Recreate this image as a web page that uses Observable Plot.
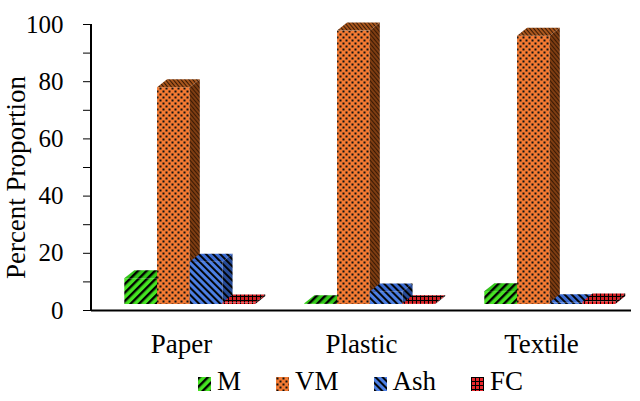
<!DOCTYPE html>
<html><head><meta charset="utf-8">
<script src="https://cdn.jsdelivr.net/npm/d3@7"></script>
<script src="https://cdn.jsdelivr.net/npm/@observablehq/plot@0.6"></script>
<style>
body{margin:0;background:#fff;font-family:"Liberation Serif","Times New Roman",serif;}
#legend{height:39px;display:flex;align-items:center;justify-content:flex-start;gap:35px;font-size:27px;color:#000;padding-left:198px;}
#legend .item{display:flex;align-items:center;gap:6px;}
#legend svg{display:block;}
</style>
</head><body>
<div id="chart"></div>
<div id="legend"></div>
<script>
const categories = ["Paper", "Plastic", "Textile"];
const series = ["M", "VM", "Ash", "FC"];
const M   = [9.0, 0.3, 4.5];
const VM  = [75.8, 95.6, 93.8];
const Ash = [14.8, 4.4, 0.6];
const FC  = [0.5, 0.3, 0.9];
const yTicks = [0, 10, 20, 30, 40, 50, 60, 70, 80, 90, 100];
const yLabels = [0, 20, 40, 60, 80, 100];
const yTitle = "Percent Proportion";

const valuesBySeries = {M, VM, Ash, FC};
const rows = [];
categories.forEach((c, ci) => series.forEach(s => rows.push({category: c, series: s, value: valuesBySeries[s][ci]})));

// pattern styles per series: [front, top, side]
const styles = {
  M:   {kind: "stripe", rot: 45,  period: 6, sw: 2.4, fills: ["#45e322", "#33c81a", "#1e8210"]},
  VM:  {kind: "dots",                         fills: ["#f47a32", "#a8561d", "#7e3d12"]},
  Ash: {kind: "stripe", rot: -45, period: 5, sw: 1.9, fills: ["#4c7fe4", "#3c6cd2", "#284c98"]},
  FC:  {kind: "grid",                         fills: ["#e8282c", "#cf1f24", "#8a1014"]}
};

function addPatterns(defs, prefix) {
  for (const s of series) {
    const st = styles[s];
    st.fills.forEach((bg, k) => {
      const id = `${prefix}-${s}-${k}`;
      if (st.kind === "stripe") {
        const p = defs.append("pattern").attr("id", id).attr("patternUnits", "userSpaceOnUse")
          .attr("width", st.period).attr("height", st.period).attr("patternTransform", `rotate(${st.rot})`);
        p.append("rect").attr("width", st.period).attr("height", st.period).attr("fill", bg);
        p.append("rect").attr("x", 0).attr("y", 0).attr("width", st.sw).attr("height", st.period).attr("fill", "#000");
      } else if (st.kind === "dots") {
        if (k === 0) {
          const p = defs.append("pattern").attr("id", id).attr("patternUnits", "userSpaceOnUse").attr("width", 6).attr("height", 6);
          p.append("rect").attr("width", 6).attr("height", 6).attr("fill", bg);
          p.append("rect").attr("x", 0.5).attr("y", 0.5).attr("width", 2).attr("height", 2).attr("fill", "#111");
          p.append("rect").attr("x", 3.5).attr("y", 3.5).attr("width", 2).attr("height", 2).attr("fill", "#111");
        } else {
          const p = defs.append("pattern").attr("id", id).attr("patternUnits", "userSpaceOnUse")
            .attr("width", 3).attr("height", 3).attr("patternTransform", "rotate(-40)");
          p.append("rect").attr("width", 3).attr("height", 3).attr("fill", bg);
          p.append("rect").attr("width", 1).attr("height", 3).attr("fill", "#3a1a05");
        }
      } else {
        const p = defs.append("pattern").attr("id", id).attr("patternUnits", "userSpaceOnUse").attr("width", 4).attr("height", 4);
        p.append("rect").attr("width", 4).attr("height", 4).attr("fill", bg);
        p.append("rect").attr("width", 1).attr("height", 4).attr("fill", "#000");
        p.append("rect").attr("width", 4).attr("height", 1).attr("fill", "#000");
      }
    });
  }
}

function bars3d(index, scales, values, dimensions) {
  const {x, y} = scales;
  const bw = x.bandwidth();
  const g = d3.create("svg:g");
  const defs = g.append("defs");
  addPatterns(defs, "pat");
  const barW = bw * 0.182, start = bw * 0.185;
  const depthX = 10, depthY = -8, lift = -6;
  for (const c of categories) {
    series.forEach((s, i) => {
      const d = rows.find(r => r.category === c && r.series === s);
      const xl = x(c) + start + i * barW, xr = xl + barW;
      const yt = y(d.value) + lift, yb = y(0) + lift;
      g.append("rect").attr("x", xl).attr("y", yt).attr("width", barW).attr("height", Math.max(0, yb - yt))
        .attr("fill", `url(#pat-${s}-0)`);
      g.append("polygon").attr("points", [[xl, yt], [xr, yt], [xr + depthX, yt + depthY], [xl + depthX, yt + depthY]].join(" "))
        .attr("fill", `url(#pat-${s}-1)`);
      g.append("polygon").attr("points", [[xr, yt], [xr + depthX, yt + depthY], [xr + depthX, yb + depthY], [xr, yb]].join(" "))
        .attr("fill", `url(#pat-${s}-2)`);
    });
  }
  // y axis line
  g.append("line").attr("x1", dimensions.marginLeft).attr("x2", dimensions.marginLeft)
    .attr("y1", y(100)).attr("y2", y(0) + 1).attr("stroke", "#000").attr("stroke-width", 2);
  return g.node();
}

const hasAxisMarks = typeof Plot.axisX === "function";
const chart = Plot.plot({
  width: 640, height: 362,
  marginLeft: 91, marginRight: 9, marginTop: 24, marginBottom: 52,
  style: {fontFamily: "'Liberation Serif', 'Times New Roman', serif", fontSize: "25px", color: "#000", background: "#fff", overflow: "visible"},
  x: {type: "band", domain: categories, padding: 0, tickSize: 0, tickPadding: 23, label: null},
  y: {type: "linear", domain: [0, 100], ticks: yTicks, tickFormat: d => yLabels.includes(d) ? String(d) : "", tickSize: 8, tickPadding: 20, label: null},
  marks: [
    Plot.tickX(categories, {x: d => d, strokeOpacity: 0}),
    hasAxisMarks ? Plot.axisX({tickSize: 0, tickPadding: 23, fontSize: 27, label: null}) : null,
    Plot.ruleY([0], {stroke: "#000", strokeWidth: 2}),
    bars3d,
    Plot.text([yTitle], {frameAnchor: "left", textAnchor: "middle", text: d => d, rotate: -90, dx: -75, dy: 10, fontSize: 27})
  ]
});
document.getElementById("chart").appendChild(chart);

// legend
const legend = d3.select("#legend");
const lsvgDefs = legend.append("svg").attr("width", 0).attr("height", 0).style("position", "absolute").append("defs");
addPatterns(lsvgDefs, "lg");
for (const s of series) {
  const item = legend.append("div").attr("class", "item");
  const sv = item.append("svg").attr("width", 13).attr("height", 14).style("margin-top", "4px");
  sv.append("rect").attr("width", 13).attr("height", 14).attr("fill", `url(#lg-${s}-0)`);
  item.append("span").text(s);
}
</script>
</body></html>
